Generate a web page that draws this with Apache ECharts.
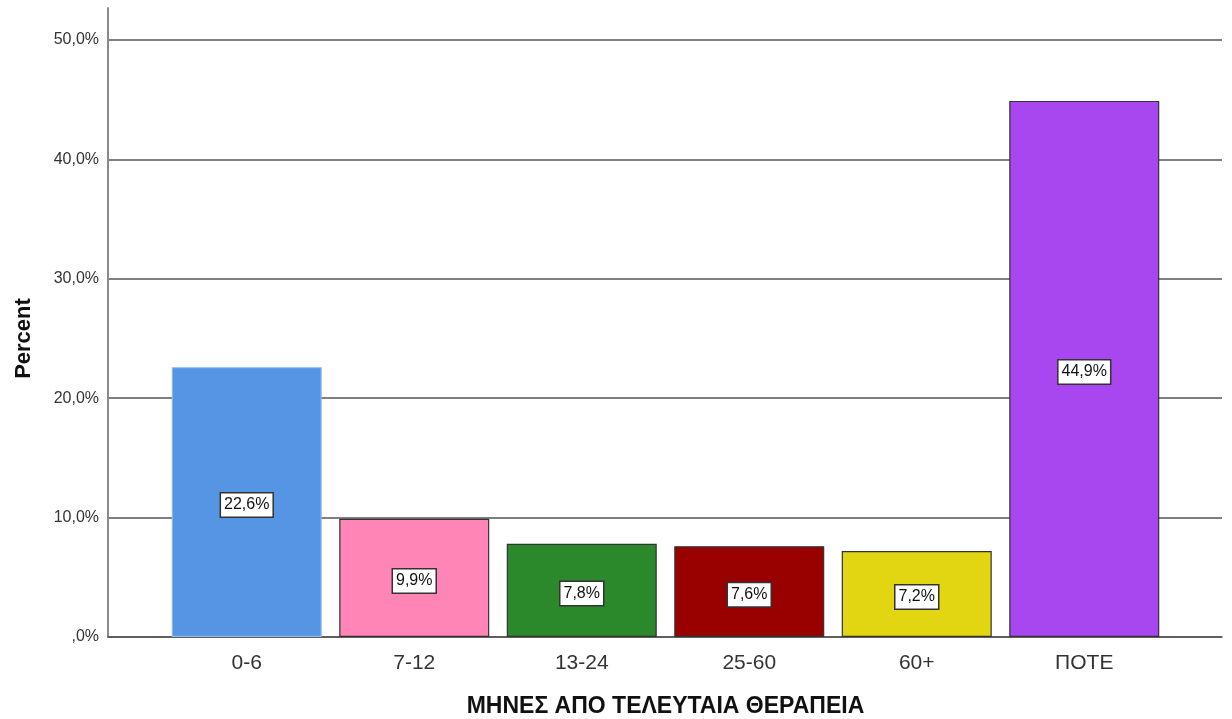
<!DOCTYPE html>
<html>
<head>
<meta charset="utf-8">
<script src="https://cdn.jsdelivr.net/npm/echarts@6/dist/echarts.min.js"></script>
<style>
  html, body { margin: 0; padding: 0; background: #fff; }
  #main { width: 1232px; height: 719px; }
</style>
</head>
<body>
<div id="main"></div>
<script>
// data
const categories = ['0-6', '7-12', '13-24', '25-60', '60+', 'ΠΟΤΕ'];
const percents = [22.6, 9.9, 7.8, 7.6, 7.2, 44.9];
const barColors = ['#5595e3', '#ff85b6', '#2b892b', '#990000', '#e2d613', '#a847f0'];
const barBorders = ['#8fb9ee', '#333333', '#333333', '#333333', '#333333', '#333333'];
const yTicks = [0, 10, 20, 30, 40, 50];

const fmt = v => (v === 0 ? '' : String(v)) + ',0%';
const font = '"Liberation Sans", Arial, sans-serif';

const chart = echarts.init(document.getElementById('main'));

const option = {
  animation: false,
  grid: [
    // frame: y axis line, full height; x axis line
    { left: 108, right: 10, top: 8, bottom: 82, outerBoundsMode: 'none' },
    // gridlines and tick labels
    { left: 108, right: 10, top: 40, bottom: 82, outerBoundsMode: 'none' },
    // bars
    { left: 163, right: 64, top: 40, bottom: 82, outerBoundsMode: 'none' }
  ],
  xAxis: [
    { gridIndex: 0, type: 'value', min: 0, max: 1, show: true,
      axisLine: { show: true, lineStyle: { color: '#555', width: 1.5 } },
      axisTick: { show: false }, axisLabel: { show: false }, splitLine: { show: false } },
    { gridIndex: 1, type: 'value', min: 0, max: 1, show: false },
    { gridIndex: 2, type: 'category', data: categories,
      axisLine: { show: false }, axisTick: { show: false },
      axisLabel: { color: '#333', fontFamily: font, fontSize: 21, margin: 16 },
      name: 'ΜΗΝΕΣ ΑΠΟ ΤΕΛΕΥΤΑΙΑ ΘΕΡΑΠΕΙΑ', nameLocation: 'middle', nameGap: 58,
      nameTextStyle: { color: '#111', fontFamily: font, fontSize: 23, fontWeight: 'bold' } }
  ],
  yAxis: [
    { gridIndex: 0, type: 'value', min: 0, max: 52.7,
      axisLine: { show: true, lineStyle: { color: '#8a8a8a', width: 2 } },
      axisTick: { show: false }, axisLabel: { show: false }, splitLine: { show: false } },
    { gridIndex: 1, type: 'value', min: yTicks[0], max: yTicks[yTicks.length - 1], interval: 10,
      axisLine: { show: false }, axisTick: { show: false },
      axisLabel: { color: '#333', fontFamily: font, fontSize: 16, margin: 9, formatter: fmt },
      splitLine: { show: true, lineStyle: { color: '#555', width: 1.5 } },
      name: 'Percent', nameLocation: 'middle', nameGap: 73, nameRotate: 90,
      nameTextStyle: { color: '#111', fontFamily: font, fontSize: 22, fontWeight: 'bold' } },
    { gridIndex: 2, type: 'value', min: 0, max: 50, show: false }
  ],
  series: [{
    type: 'bar',
    xAxisIndex: 2,
    yAxisIndex: 2,
    barWidth: 150,
    data: percents.map((v, i) => ({
      value: v,
      itemStyle: { color: barColors[i], borderColor: barBorders[i], borderWidth: 1.2 }
    })),
    label: {
      show: true,
      position: 'inside',
      offset: [0, 3],
      formatter: p => String(p.value).replace('.', ',') + '%',
      color: '#111',
      fontFamily: font,
      fontSize: 16,
      backgroundColor: '#fff',
      borderColor: '#333',
      borderWidth: 1.5,
      padding: [4, 3, 3, 3]
    }
  }]
};

chart.setOption(option);
</script>
</body>
</html>
